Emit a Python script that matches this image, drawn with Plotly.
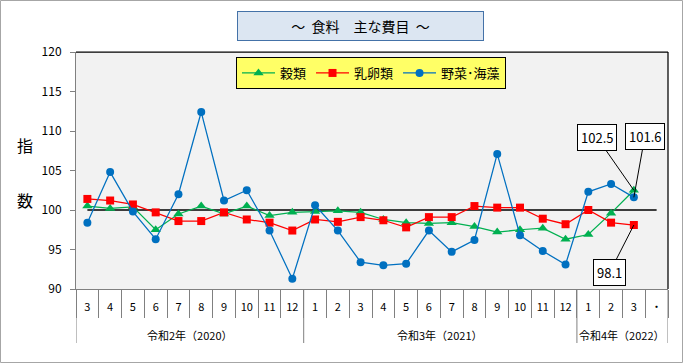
import plotly.graph_objects as go

years = ["令和2年（2020）"] * 10 + ["令和3年（2021）"] * 12 + ["令和4年（2022）"] * 4
months = ["3", "4", "5", "6", "7", "8", "9", "10", "11", "12",
          "1", "2", "3", "4", "5", "6", "7", "8", "9", "10", "11", "12",
          "1", "2", "3", "・"]

grain = [100.5, 100.2, 100.4, 97.5, 99.5, 100.5, 99.5, 100.5, 99.3, 99.7,
         99.8, 99.9, 99.7, 98.8, 98.4, 98.3, 98.4, 97.9, 97.2, 97.5, 97.7, 96.3,
         96.9, 99.6, 102.5, None]
egg = [101.4, 101.2, 100.7, 99.7, 98.6, 98.6, 99.7, 98.8, 98.4, 97.4,
       98.8, 98.5, 99.1, 98.7, 97.8, 99.1, 99.1, 100.5, 100.3, 100.3, 98.9, 98.2,
       100.0, 98.4, 98.1, None]
veg = [98.4, 104.8, 99.8, 96.3, 102.0, 112.4, 101.2, 102.5, 97.4, 91.3,
       100.6, 97.4, 93.4, 93.0, 93.2, 97.4, 94.7, 96.2, 107.1, 96.8, 94.8, 93.1,
       102.3, 103.3, 101.6, None]
base = [100] * 26

names = ["穀類", "乳卵類", "野菜･海藻"]
colors = ["#00B050", "#FF0000", "#0070C0"]
symbols = ["triangle-up", "square", "circle"]
sizes = [9, 8, 8]

FONT = "Noto Sans CJK JP, Meiryo, sans-serif"
idx = list(range(len(months)))

fig = go.Figure()
fig.add_trace(go.Scatter(x=idx, y=base, mode="lines", line=dict(color="black", width=1.5),
                         showlegend=False, hoverinfo="skip"))
for name, vals, c, s, sz in zip(names, [grain, egg, veg], colors, symbols, sizes):
    fig.add_trace(go.Scatter(x=idx, y=vals, mode="lines+markers", name=name,
                             line=dict(color=c, width=1.25),
                             marker=dict(color=c, symbol=s, size=sz)))

W, H = 683, 363
L, R, T, B = 76, 15, 52, 74
pw, ph = W - L - R, H - T - B

def px(xp):
    return (xp - L) / pw

def py(yp):
    return 1 - (yp - T) / ph

last = len(grain) - 2
annos = [
    dict(x=last, y=grain[last], text="102.5", ax=-37, ay=-53),
    dict(x=last, y=veg[last], text="101.6", ax=11, ay=-61),
    dict(x=last, y=egg[last], text="98.1", ax=-24, ay=47),
]
annotations = []
for a in annos:
    annotations.append(dict(xref="x", yref="y", showarrow=True, arrowhead=0, arrowwidth=1,
                            arrowcolor="black", standoff=0, bgcolor="white",
                            bordercolor="black", borderwidth=1, borderpad=3,
                            font=dict(family=FONT, size=13, color="black"), **a))

# year group labels and dividers, derived from the years list
groups = []
start = 0
for i in range(1, len(years) + 1):
    if i == len(years) or years[i] != years[start]:
        groups.append((years[start], start, i - 1))
        start = i

shapes = []
for gname, s0, s1 in groups:
    annotations.append(dict(xref="x", yref="paper", x=(s0 + s1) / 2, y=py(335),
                            text=gname, showarrow=False, xanchor="center", yanchor="middle",
                            font=dict(family=FONT, size=11, color="black")))
bounds = [g[1] - 0.5 for g in groups] + [groups[-1][2] + 0.5]
for b in bounds:
    shapes.append(dict(type="line", xref="x", yref="paper", x0=b, x1=b, y0=0, y1=py(343),
                       line=dict(color="#808080", width=1)))

annotations.append(dict(xref="paper", yref="paper", x=px(360.5), y=py(26),
                        text="～  食料　主な費目  ～", showarrow=False,
                        xanchor="center", yanchor="middle", width=243, height=26,
                        bgcolor="#DCE6F2", bordercolor="#4472A8", borderwidth=1,
                        font=dict(family=FONT, size=14, color="black")))
annotations.append(dict(xref="paper", yref="paper", x=px(25), y=py(145), text="指",
                        xanchor="center", yanchor="middle",
                        showarrow=False, font=dict(family=FONT, size=16, color="black")))
annotations.append(dict(xref="paper", yref="paper", x=px(25), y=py(200), text="数",
                        xanchor="center", yanchor="middle",
                        showarrow=False, font=dict(family=FONT, size=16, color="black")))

shapes += [
    dict(type="rect", xref="paper", yref="paper", x0=px(0.5), x1=px(682.5), y0=py(362.5), y1=py(0.5),
         line=dict(color="#A6A6A6", width=1)),
    dict(type="line", xref="paper", yref="paper", x0=0, x1=1, y0=1, y1=1,
         line=dict(color="black", width=1.25)),
    dict(type="line", xref="paper", yref="paper", x0=1, x1=1, y0=0, y1=1,
         line=dict(color="black", width=1.25)),
]

fig.update_layout(
    width=W, height=H,
    margin=dict(l=L, r=R, t=T, b=B),
    paper_bgcolor="white", plot_bgcolor="#F2F2F2",
    font=dict(family=FONT, size=11, color="black"),
    showlegend=True,
    legend=dict(orientation="h", x=px(236), y=py(57), xanchor="left", yanchor="top",
                bgcolor="#FFFF66", bordercolor="black", borderwidth=1, itemwidth=33,
                font=dict(family=FONT, size=13, color="black"), traceorder="normal"),
    xaxis=dict(range=[-0.5, len(months) - 0.5], showgrid=False, zeroline=False,
               showline=True, linecolor="#808080", linewidth=1,
               tickmode="array", tickvals=idx, ticktext=months, ticks="",
               tickfont=dict(family=FONT, size=11, color="black"),
               ticklabelstandoff=8,
               minor=dict(tickmode="array", tickvals=[i - 0.5 for i in range(len(months) + 1)],
                          ticks="outside", ticklen=28, tickcolor="#808080", tickwidth=1,
                          showgrid=False)),
    yaxis=dict(range=[90, 120], dtick=5, showgrid=False, zeroline=False,
               showline=True, linecolor="#808080", linewidth=1,
               ticks="outside", ticklen=5, tickcolor="#808080", ticklabelstandoff=6,
               tickfont=dict(family=FONT, size=12, color="black")),
    annotations=annotations,
    shapes=shapes,
)

fig.write_html("out.html", config={"displayModeBar": False},
               post_script="document.body.style.margin='0';")
